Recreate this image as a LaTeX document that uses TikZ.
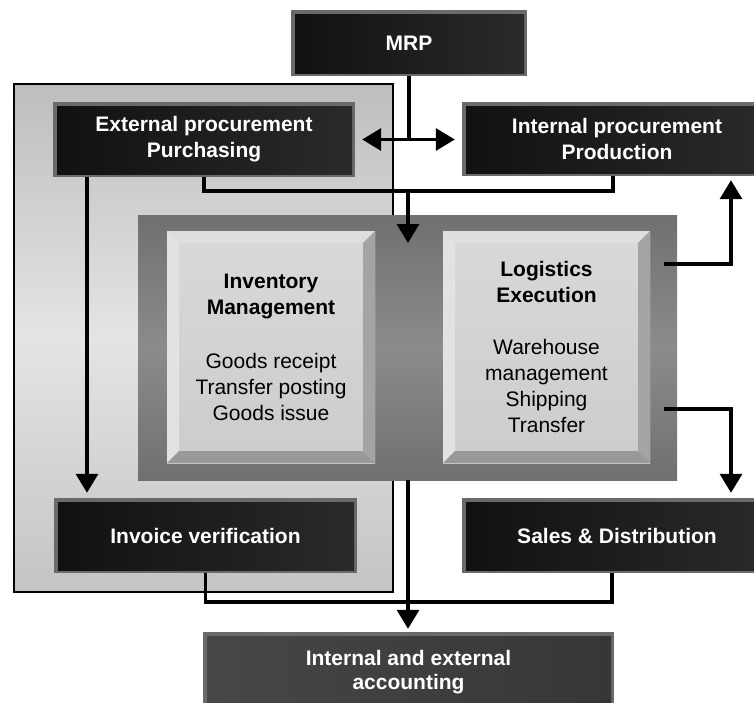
\documentclass[tikz,border=0pt]{standalone}
\usepackage{fontspec}
\setmainfont{Liberation Sans}
\usetikzlibrary{arrows.meta}

\definecolor{rimgray}{HTML}{6A6A6A}
\definecolor{faceA}{HTML}{111111}
\definecolor{faceB}{HTML}{2A2A2A}
\definecolor{acctA}{HTML}{474747}
\definecolor{acctB}{HTML}{363636}
\definecolor{panelTop}{HTML}{BEBEBE}
\definecolor{panelMid}{HTML}{E4E4E4}
\definecolor{panelBot}{HTML}{C4C4C4}
\definecolor{frameEnd}{HTML}{707070}
\definecolor{frameMid}{HTML}{8B8B8B}
\definecolor{bevTop}{HTML}{DEDEDE}
\definecolor{bevLeft}{HTML}{E2E2E2}
\definecolor{bevRight}{HTML}{A4A4A4}
\definecolor{bevBottom}{HTML}{999999}
\definecolor{plateA}{HTML}{D9D9D9}
\definecolor{plateB}{HTML}{CCCCCC}

\begin{document}
\begin{tikzpicture}[x=1pt,y=-1pt,
  >={Triangle[width=22pt,length=19pt]},
  wire/.style={line width=3.3pt, line join=miter},
  arrow/.style={wire, ->},
  % dark box with a thin grey rim; #1/#2 are the face colours
  rimbox/.style 2 args={rectangle, inner sep=0pt, text=white, align=center,
    font=\bfseries\fontsize{21}{26}\selectfont,
    path picture={
      \path (path picture bounding box.north west) coordinate (cNW)
            (path picture bounding box.south east) coordinate (cSE);
      \fill[rimgray] (cNW) rectangle (cSE);
      \shade[left color=#1, right color=#2]
        ([shift={(4pt,-4pt)}]cNW) rectangle ([shift={(-3pt,3pt)}]cSE);
    }},
  darkbox/.style={rimbox={faceA}{faceB}},
  % light raised plate with bevelled edges
  plate/.style={rectangle, inner sep=0pt, text=black, align=center,
    font=\fontsize{21}{26}\selectfont,
    path picture={
      \path (path picture bounding box.north west) coordinate (cNW)
            (path picture bounding box.north east) coordinate (cNE)
            (path picture bounding box.south west) coordinate (cSW)
            (path picture bounding box.south east) coordinate (cSE)
            ([shift={(12pt,-12pt)}]cNW) coordinate (dNW)
            ([shift={(-12pt,-12pt)}]cNE) coordinate (dNE)
            ([shift={(12pt,12pt)}]cSW) coordinate (dSW)
            ([shift={(-12pt,12pt)}]cSE) coordinate (dSE);
      \shade[top color=plateA, bottom color=plateB] (cNW) rectangle (cSE);
      \fill[bevTop] (cNW) -- (cNE) -- (dNE) -- (dNW) -- cycle;
      \fill[bevLeft] (cNW) -- (dNW) -- (dSW) -- (cSW) -- cycle;
      \fill[bevRight] (cNE) -- (cSE) -- (dSE) -- (dNE) -- cycle;
      \fill[bevBottom] (cSW) -- (dSW) -- (dSE) -- (cSE) -- cycle;
    }}
]
\useasboundingbox (0,0) rectangle (754,702);
\clip (0,0) rectangle (754,702);
\fill[white] (0,0) rectangle (754,702);

% procurement panel and the central frame
\node[rectangle, draw=black, line width=2pt, minimum width=379pt, minimum height=508pt,
      top color=panelTop, bottom color=panelBot, middle color=panelMid] (panel) at (203.5,338) {};
\node[rectangle, minimum width=539pt, minimum height=265pt,
      top color=frameEnd, bottom color=frameEnd, middle color=frameMid] (frame) at (407.5,347.5) {};

% raised plates
\node[plate, minimum width=208pt, minimum height=232pt] (invm) at (271,347)
  {\textbf{Inventory}\\\textbf{Management}\\[28pt]Goods receipt\\Transfer posting\\Goods issue};
\node[plate, minimum width=207pt, minimum height=232pt] (logi) at (546.5,347)
  {\textbf{Logistics}\\\textbf{Execution}\\[26pt]Warehouse\\management\\Shipping\\Transfer};

% dark boxes
\node[darkbox, minimum width=236pt, minimum height=66pt] (mrp) at (409,43) {MRP};
\node[darkbox, minimum width=302pt, minimum height=75pt] (ext) at (204,139.5)
  {External procurement\\Purchasing};
\node[darkbox, minimum width=310pt, minimum height=74pt] (int) at (617,139)
  {Internal procurement\\Production};
\node[darkbox, minimum width=303pt, minimum height=75pt] (inv) at (205.5,535.5)
  {Invoice verification};
\node[darkbox, minimum width=310pt, minimum height=75pt] (sales) at (617,535.5)
  {Sales \& Distribution};
\node[rimbox={acctA}{acctB}, minimum width=411pt, minimum height=80pt,
      font=\bfseries\fontsize{21}{24}\selectfont] (acct) at (408.5,672)
  {Internal and external\\accounting};

% connector anchors
\coordinate (jtop) at (408,191);
\coordinate (jbot) at (408,602);
\coordinate (frameTip) at (408,243);
\coordinate (lx) at (87,0);
\coordinate (rx) at (731,0);
\coordinate (cx) at (408,0);
\coordinate (outA) at (664,264);
\coordinate (outB) at (664,409);

% connectors
\draw[wire] (mrp.south) -- (mrp.south |- ext.east);
\draw[wire, <->, shorten <=7pt, shorten >=7pt] (ext.east) -- (ext.east -| int.west);
\draw[wire] (ext.south) |- (jtop) -| ([xshift=-4pt]int.south);
\draw[arrow] (jtop) -- (frameTip);
\draw[arrow, shorten >=5pt] (lx |- ext.south) -- (lx |- inv.north);
\draw[arrow, shorten >=4pt] (outA) -| (rx |- int.south);
\draw[arrow, shorten >=5pt] (outB) -| (rx |- sales.north);
\draw[arrow, shorten >=3pt] (cx |- frame.south) -- (cx |- acct.north);
\draw[wire] (inv.south) |- (jbot) -| ([xshift=-5pt]sales.south);
\end{tikzpicture}
\end{document}
